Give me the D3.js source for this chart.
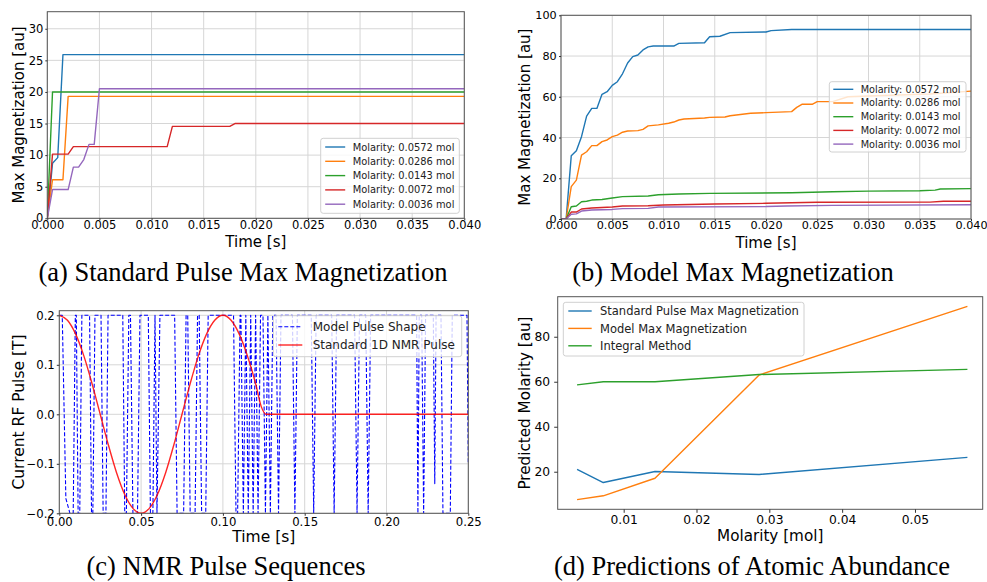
<!DOCTYPE html>
<html><head><meta charset="utf-8">
<script src="https://cdn.jsdelivr.net/npm/d3@7"></script>
<style>
body{margin:0;background:#fff}
svg{display:block}
</style>
</head><body>
<svg id="fig" width="987" height="582"></svg>
<script>
// ---------- data ----------
const seriesColors = ["#1f77b4", "#ff7f0e", "#2ca02c", "#d62728", "#9467bd"];
const molarityLabels = ["Molarity: 0.0572 mol", "Molarity: 0.0286 mol", "Molarity: 0.0143 mol", "Molarity: 0.0072 mol", "Molarity: 0.0036 mol"];

// (a) Standard pulse max magnetization  [time s, magnetization au]
const stdM0572 = [[0,0],[0.0005,8.7],[0.001,9.6],[0.0015,25.9],[0.04,25.9]];
const stdM0286 = [[0,0],[0.0005,6.1],[0.0015,6.1],[0.002,19.3],[0.04,19.3]];
const stdM0143 = [[0,0],[0.0005,20.0],[0.04,20.0]];
const stdM0072 = [[0,0],[0.0005,10.15],[0.002,10.15],[0.0025,11.35],[0.0115,11.35],[0.012,14.55],[0.0175,14.55],[0.018,15.0],[0.04,15.0]];
const stdM0036 = [[0,0],[0.0005,4.55],[0.002,4.55],[0.0025,8.1],[0.003,8.1],[0.0035,9.3],[0.004,11.7],[0.0045,11.7],[0.005,20.5],[0.04,20.5]];

// (b) Model max magnetization
const modM0572 = [[0,0],[0.0005,0],[0.001,31],[0.0015,33.5],[0.002,40.4],[0.0025,50.5],[0.003,54.3],[0.0035,54.3],[0.004,61.2],[0.0045,62.5],[0.005,65.6],[0.0055,67.4],[0.006,71.3],[0.0065,76.6],[0.007,79.7],[0.0075,80.5],[0.008,83],[0.0085,84.5],[0.009,84.9],[0.011,84.9],[0.0115,86.2],[0.014,86.5],[0.0145,89.5],[0.0155,89.7],[0.0165,91.5],[0.02,91.8],[0.0205,92.5],[0.0225,93.0],[0.04,93.0]];
const modM0286 = [[0,0],[0.0005,0],[0.001,15.9],[0.0015,19.1],[0.002,31.4],[0.0025,33],[0.003,36],[0.0035,36],[0.004,38],[0.0045,38.8],[0.005,40.4],[0.0055,41.2],[0.006,42.6],[0.0065,43.2],[0.0075,43.4],[0.008,44],[0.0085,45.7],[0.0095,46.2],[0.0105,47],[0.011,47.6],[0.0115,48.6],[0.012,49.1],[0.014,49.6],[0.0145,49.9],[0.016,50.1],[0.0165,50.7],[0.0185,51.9],[0.02,52.2],[0.0225,52.7],[0.023,54.8],[0.0235,56.3],[0.0245,56.3],[0.025,57.6],[0.0265,57.6],[0.028,60],[0.03,60.4],[0.036,61.4],[0.04,62.8]];
const modM0143 = [[0,0],[0.0005,0],[0.001,6.0],[0.0015,6.4],[0.002,8.5],[0.0025,8.7],[0.003,9.3],[0.004,9.6],[0.005,10.3],[0.006,11],[0.0085,11.3],[0.0095,11.9],[0.0115,12.3],[0.0145,12.6],[0.0225,12.9],[0.0265,13.4],[0.03,13.7],[0.035,13.9],[0.0365,14.2],[0.037,14.7],[0.04,14.9]];
const modM0072 = [[0,0],[0.0005,0],[0.001,3.4],[0.0015,3.4],[0.002,4.9],[0.003,5.4],[0.005,5.9],[0.006,6.4],[0.0085,6.5],[0.01,6.9],[0.015,7.4],[0.02,7.7],[0.025,8.2],[0.036,8.3],[0.0373,8.7],[0.04,8.7]];
const modM0036 = [[0,0],[0.0005,0],[0.001,2.3],[0.0015,2.5],[0.002,3.9],[0.003,4.4],[0.005,4.7],[0.006,5.1],[0.0085,5.2],[0.0095,5.9],[0.02,6.1],[0.022,6.4],[0.0265,6.7],[0.04,7.0]];

// (c) pulse sequences [time s, field T]
const modelPulse = [[0,0.2],[0.0018,0.2],[0.004,-0.17],[0.0065,-0.2],[0.0085,-0.2],[0.0098,0.2],[0.0104,0.2],[0.0115,-0.2],[0.0125,-0.2],[0.0138,0.2],[0.0185,0.2],[0.0197,-0.2],[0.0205,-0.2],[0.0218,0.2],[0.0255,0.2],[0.0268,-0.2],[0.0285,-0.2],[0.0298,0.2],[0.0388,0.2],[0.04,-0.2],[0.041,-0.2],[0.0425,0.2],[0.0435,0.2],[0.045,-0.2],[0.0478,-0.2],[0.0493,0.2],[0.0544,0.2],[0.0557,-0.2],[0.0572,-0.2],[0.0585,0.2],[0.0597,-0.2],[0.0615,0.2],[0.0705,0.2],[0.072,-0.2],[0.076,-0.2],[0.0775,0.2],[0.0785,0.2],[0.08,-0.2],[0.083,-0.2],[0.0845,0.2],[0.0855,0.2],[0.087,-0.2],[0.0895,-0.2],[0.091,0.2],[0.1065,0.2],[0.108,-0.2],[0.109,-0.2],[0.1105,0.2],[0.111,0.2],[0.1125,-0.2],[0.114,0.2],[0.1155,-0.2],[0.117,0.2],[0.1185,-0.2],[0.12,0.2],[0.1215,-0.2],[0.123,0.2],[0.1245,0.2],[0.126,-0.2],[0.1275,0.2],[0.129,-0.2],[0.1305,0.2],[0.1325,0.2],[0.134,-0.2],[0.1355,0.2],[0.1425,0.2],[0.144,-0.2],[0.1455,0.2],[0.154,0.2],[0.1555,-0.2],[0.157,0.2],[0.1665,0.2],[0.168,-0.2],[0.1695,0.2],[0.1805,0.2],[0.182,-0.2],[0.1835,0.2],[0.1873,0.2],[0.1888,-0.2],[0.1903,0.2],[0.2184,0.2],[0.2192,-0.2],[0.22,0.2],[0.2215,0.2],[0.2227,-0.2],[0.2239,0.2],[0.2286,0.2],[0.2295,-0.14],[0.2303,0.2],[0.2333,0.2],[0.2345,-0.2],[0.239,-0.2],[0.2402,0.2],[0.2492,0.2],[0.25,-0.1]];
const standardPulse = [[0,0.2],[0.005,0.19],[0.01,0.162],[0.015,0.118],[0.02,0.062],[0.025,0],[0.03,-0.062],[0.035,-0.118],[0.04,-0.162],[0.045,-0.19],[0.05,-0.2],[0.055,-0.19],[0.06,-0.162],[0.065,-0.118],[0.07,-0.062],[0.075,0],[0.08,0.062],[0.085,0.118],[0.09,0.162],[0.095,0.19],[0.1,0.2],[0.105,0.19],[0.11,0.162],[0.115,0.118],[0.12,0.062],[0.1235,0.015],[0.1265,0],[0.25,0]];

// (d) predictions
const molarity = [0.0036, 0.0072, 0.0143, 0.0286, 0.0572];
const predStandard = [21.0, 15.2, 20.1, 18.8, 26.4];
const predModel = [7.6, 9.3, 17.1, 63.0, 93.5];
const predIntegral = [58.6, 60.0, 60.0, 63.2, 65.5];

// tick values
const timeTicks40 = [0, 0.005, 0.01, 0.015, 0.02, 0.025, 0.03, 0.035, 0.04];
const magTicksA = [0, 5, 10, 15, 20, 25, 30];
const magTicksB = [0, 20, 40, 60, 80, 100];
const timeTicks25 = [0, 0.05, 0.1, 0.15, 0.2, 0.25];
const fieldTicks = [-0.2, -0.1, 0, 0.1, 0.2];
const molTicks = [0.01, 0.02, 0.03, 0.04, 0.05];
const predTicks = [20, 40, 60, 80];

// ---------- drawing ----------
const svg = d3.select("#fig");
const FONT = "'DejaVu Sans', sans-serif";

function drawPanel(p) {
  const g = svg.append("g");
  const x = d3.scaleLinear().domain(p.xDomain).range([p.left, p.right]);
  const y = d3.scaleLinear().domain(p.yDomain).range([p.bottom, p.top]);

  if (p.grid) {
    g.append("g").selectAll("line").data(p.xTicks).join("line")
      .attr("x1", d => x(d)).attr("x2", d => x(d)).attr("y1", p.top).attr("y2", p.bottom)
      .attr("stroke", "#d6d6d6").attr("stroke-width", 1);
    g.append("g").selectAll("line").data(p.yTicks).join("line")
      .attr("y1", d => y(d)).attr("y2", d => y(d)).attr("x1", p.left).attr("x2", p.right)
      .attr("stroke", "#d6d6d6").attr("stroke-width", 1);
  }

  const clipId = "clip-" + p.name;
  g.append("clipPath").attr("id", clipId).append("rect")
    .attr("x", p.left).attr("y", p.top).attr("width", p.right - p.left).attr("height", p.bottom - p.top);

  const line = d3.line().x(d => x(d[0])).y(d => y(d[1]));
  p.series.forEach(s => {
    const l = s.curve ? d3.line().x(d => x(d[0])).y(d => y(d[1])).curve(s.curve) : line;
    g.append("path").datum(s.data).attr("d", l)
      .attr("fill", "none").attr("stroke", s.color).attr("stroke-width", s.width || 1.4)
      .attr("stroke-dasharray", s.dash || null).attr("stroke-opacity", s.opacity || 1)
      .attr("stroke-linejoin", "round")
      .attr("clip-path", `url(#${clipId})`);
  });

  g.append("rect").attr("x", p.left).attr("y", p.top).attr("width", p.right - p.left).attr("height", p.bottom - p.top)
    .attr("fill", "none").attr("stroke", "#555").attr("stroke-width", 1);

  const xa = g.append("g").attr("transform", `translate(0,${p.bottom})`)
    .call(d3.axisBottom(x).tickValues(p.xTicks).tickFormat(p.xFmt).tickSize(p.tick).tickPadding(p.xPad));
  xa.select(".domain").remove();
  xa.selectAll("line").attr("stroke", "#333");
  xa.selectAll("text").attr("font-family", FONT).attr("font-size", p.tickFont).attr("fill", "#000");

  const ya = g.append("g").attr("transform", `translate(${p.left},0)`)
    .call(d3.axisLeft(y).tickValues(p.yTicks).tickFormat(p.yFmt).tickSize(p.tick).tickPadding(p.yPad));
  ya.select(".domain").remove();
  ya.selectAll("line").attr("stroke", "#333");
  ya.selectAll("text").attr("font-family", FONT).attr("font-size", p.tickFont).attr("fill", "#000");

  g.append("text").attr("x", (p.left + p.right) / 2).attr("y", p.xLabelY)
    .attr("text-anchor", "middle").attr("font-family", FONT).attr("font-size", p.labelFont).text(p.xLabel);
  g.append("text").attr("transform", `translate(${p.yLabelX},${(p.top + p.bottom) / 2}) rotate(-90)`)
    .attr("text-anchor", "middle").attr("font-family", FONT).attr("font-size", p.labelFont).text(p.yLabel);

  // legend
  const L = p.legend;
  const lg = g.append("g");
  lg.append("rect").attr("x", L.x).attr("y", L.y).attr("width", L.w).attr("height", L.h)
    .attr("rx", 2.5).attr("fill", "#fff").attr("fill-opacity", 0.8).attr("stroke", "#d0d0d0").attr("stroke-width", 1);
  p.series.forEach((s, i) => {
    const yy = L.y + L.first + i * L.step;
    lg.append("line").attr("x1", L.x + L.lx0).attr("x2", L.x + L.lx1).attr("y1", yy).attr("y2", yy)
      .attr("stroke", s.color).attr("stroke-width", s.width || 1.4).attr("stroke-dasharray", s.dash || null)
      .attr("stroke-opacity", s.opacity || 1);
    lg.append("text").attr("x", L.x + L.tx).attr("y", yy).attr("dy", "0.36em")
      .attr("font-family", FONT).attr("font-size", L.font).attr("fill", "#222").text(s.label);
  });
  return { x, y };
}

const fmt3 = d3.format(".3f"), fmt2 = d3.format(".2f"), fmt1 = d3.format(".1f"), fmt0 = d3.format("d");

// (a)
drawPanel({
  name: "a", left: 47.3, right: 464.3, top: 11.7, bottom: 218.3,
  xDomain: [0, 0.04], yDomain: [0, 32.7], xTicks: timeTicks40, yTicks: magTicksA,
  xFmt: fmt3, yFmt: fmt0, grid: true, tickFont: 11.5, labelFont: 15, tick: 2, xPad: 0.5, yPad: 2,
  xLabel: "Time [s]", xLabelY: 247, yLabel: "Max Magnetization [au]", yLabelX: 23.5,
  series: [stdM0572, stdM0286, stdM0143, stdM0072, stdM0036].map((d, i) => ({ data: d, color: seriesColors[i], label: molarityLabels[i] })),
  legend: { x: 320.7, y: 138.3, w: 138.6, h: 75, first: 8.7, step: 14.3, lx0: 4.5, lx1: 24.5, tx: 32, font: 9.9 }
});

// (b)
drawPanel({
  name: "b", left: 561, right: 971, top: 15.3, bottom: 219,
  xDomain: [0, 0.04], yDomain: [0, 100], xTicks: timeTicks40, yTicks: magTicksB,
  xFmt: fmt3, yFmt: fmt0, grid: true, tickFont: 11.2, labelFont: 15, tick: 2, xPad: 0.3, yPad: 2.3,
  xLabel: "Time [s]", xLabelY: 247.5, yLabel: "Max Magnetization [au]", yLabelX: 529.5,
  series: [modM0572, modM0286, modM0143, modM0072, modM0036].map((d, i) => ({ data: d, color: seriesColors[i], label: molarityLabels[i] })),
  legend: { x: 829.3, y: 81.7, w: 136.7, h: 70.3, first: 7.6, step: 13.7, lx0: 4, lx1: 24, tx: 31.4, font: 9.7 }
});

// (c)
drawPanel({
  name: "c", left: 59.3, right: 468.3, top: 310.7, bottom: 513.3,
  xDomain: [0, 0.25], yDomain: [-0.2, 0.2093], xTicks: timeTicks25, yTicks: fieldTicks,
  xFmt: fmt2, yFmt: fmt1, grid: true, tickFont: 11.7, labelFont: 15.5, tick: 2.5, xPad: 1.5, yPad: 2,
  xLabel: "Time [s]", xLabelY: 542, yLabel: "Current RF Pulse [T]", yLabelX: 23.5,
  series: [
    { data: modelPulse, color: "#0000ff", label: "Model Pulse Shape", dash: "4,2", width: 1.1 },
    { data: standardPulse, color: "#ff0000", label: "Standard 1D NMR Pulse", width: 1.4, curve: d3.curveMonotoneX, opacity: 0.85 }
  ],
  legend: { x: 273.3, y: 315.7, w: 188.4, h: 41, first: 11, step: 18.3, lx0: 5, lx1: 29, tx: 39.4, font: 12 }
});

// (d)
const toPts = v => molarity.map((m, i) => [m, v[i]]);
drawPanel({
  name: "d", left: 557.7, right: 982.7, top: 296.7, bottom: 509.3,
  xDomain: [0.00094, 0.0593], yDomain: [3.3, 97.8], xTicks: molTicks, yTicks: predTicks,
  xFmt: fmt2, yFmt: fmt0, grid: false, tickFont: 12.3, labelFont: 15.2, tick: 3.5, xPad: 2, yPad: 4,
  xLabel: "Molarity [mol]", xLabelY: 540.5, yLabel: "Predicted Molarity [au]", yLabelX: 529.5,
  series: [
    { data: toPts(predStandard), color: seriesColors[0], label: "Standard Pulse Max Magnetization" },
    { data: toPts(predModel), color: seriesColors[1], label: "Model Max Magnetization" },
    { data: toPts(predIntegral), color: seriesColors[2], label: "Integral Method" }
  ],
  legend: { x: 563.3, y: 302.3, w: 240.7, h: 53.7, first: 8.7, step: 17.4, lx0: 5, lx1: 28.4, tx: 36.7, font: 11.5 }
});

// captions
const captions = [
  { text: "(a) Standard Pulse Max Magnetization", x: 243, y: 281 },
  { text: "(b) Model Max Magnetization", x: 733, y: 281 },
  { text: "(c) NMR Pulse Sequences", x: 226, y: 575 },
  { text: "(d) Predictions of Atomic Abundance", x: 752, y: 575 }
];
svg.append("g").selectAll("text").data(captions).join("text")
  .attr("x", d => d.x).attr("y", d => d.y).attr("text-anchor", "middle")
  .attr("font-family", "'Liberation Serif', 'Times New Roman', serif").attr("font-size", 26.5)
  .attr("fill", "#000").text(d => d.text);
</script>
</body></html>
